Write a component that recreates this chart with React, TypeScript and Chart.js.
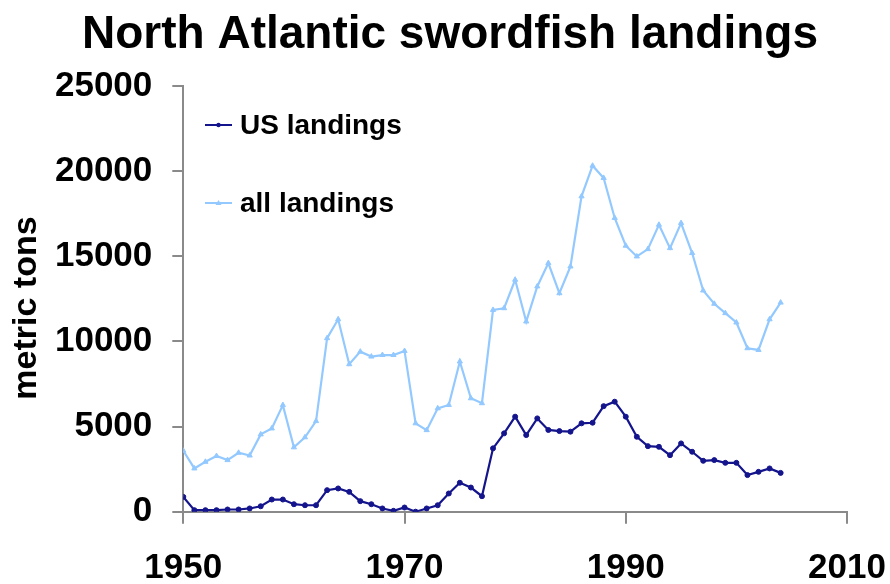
import React, { useEffect, useRef } from "react";
import { Chart, registerables } from "chart.js";

Chart.register(...registerables);

// Landings in metric tons, one value per year
const years: number[] = [
  1950, 1951, 1952, 1953, 1954, 1955, 1956, 1957, 1958, 1959,
  1960, 1961, 1962, 1963, 1964, 1965, 1966, 1967, 1968, 1969,
  1970, 1971, 1972, 1973, 1974, 1975, 1976, 1977, 1978, 1979,
  1980, 1981, 1982, 1983, 1984, 1985, 1986, 1987, 1988, 1989,
  1990, 1991, 1992, 1993, 1994, 1995, 1996, 1997, 1998, 1999,
  2000, 2001, 2002, 2003, 2004,
];

const usLandings: number[] = [
  870, 90, 90, 90, 130, 130, 190, 320, 715, 715,
  440, 380, 380, 1265, 1365, 1165, 620, 440, 190, 50,
  245, 0, 190, 380, 1070, 1700, 1420, 910, 3720, 4600,
  5580, 4500, 5480, 4800, 4735, 4700, 5190, 5225, 6200, 6460,
  5580, 4400, 3850, 3810, 3320, 4010, 3520, 2990, 3030, 2870,
  2870, 2150, 2340, 2540, 2280,
];

const allLandings: number[] = [
  3580, 2540, 2930, 3270, 3030, 3460, 3300, 4540, 4890, 6260,
  3780, 4370, 5320, 10190, 11300, 8660, 9400, 9110, 9200, 9200,
  9440, 5190, 4790, 6070, 6270, 8820, 6660, 6370, 11850, 11950,
  13620, 11170, 13230, 14600, 12830, 14400, 18520, 20320, 19600, 17250,
  15620, 14990, 15420, 16850, 15480, 16950, 15190, 12990, 12210, 11660,
  11110, 9600, 9500, 11300, 12280,
];

const seriesNames: string[] = ["US landings", "all landings"];
const seriesColors: string[] = ["#14148c", "#93c9ff"];
const seriesPoints: string[] = ["circle", "triangle"];

const titleText = "North Atlantic swordfish landings";
const yAxisTitle = "metric tons";

const xMin = 1950;
const xMax = 2010;
const xStep = 20;
const yMin = 0;
const yMax = 25000;
const yStep = 5000;

const FONT = "'Liberation Sans', Arial, Helvetica, sans-serif";
const AXIS_GREY = "#8a8a8a";

const toPoints = (vals: number[]) => vals.map((v, i) => ({ x: years[i], y: v }));

// Title, rotated axis title and the in-plot legend
const decorations = {
  id: "decorations",
  afterDraw(chart: any) {
    const ctx = chart.ctx as CanvasRenderingContext2D;
    ctx.save();
    ctx.fillStyle = "#000";

    ctx.font = `bold 46px ${FONT}`;
    ctx.textAlign = "center";
    ctx.textBaseline = "alphabetic";
    ctx.fillText(titleText, 450, 48);

    ctx.save();
    ctx.translate(27, 308);
    ctx.rotate(-Math.PI / 2);
    ctx.font = `bold 34px ${FONT}`;
    ctx.textAlign = "center";
    ctx.textBaseline = "middle";
    ctx.fillText(yAxisTitle, 0, 0);
    ctx.restore();

    const rows = [125, 203];
    chart.data.datasets.forEach((ds: any, i: number) => {
      const y = rows[i];
      ctx.strokeStyle = ds.borderColor;
      ctx.lineWidth = 2;
      ctx.beginPath();
      ctx.moveTo(205, y);
      ctx.lineTo(232, y);
      ctx.stroke();
      ctx.fillStyle = ds.borderColor;
      ctx.beginPath();
      if (ds.pointStyle === "triangle") {
        ctx.moveTo(218.5, y - 3);
        ctx.lineTo(221.5, y + 2);
        ctx.lineTo(215.5, y + 2);
        ctx.closePath();
      } else {
        ctx.arc(218.5, y, 2.2, 0, Math.PI * 2);
      }
      ctx.fill();
      ctx.fillStyle = "#000";
      ctx.font = `bold 28px ${FONT}`;
      ctx.textAlign = "left";
      ctx.textBaseline = "middle";
      ctx.fillText(ds.label, 240, y + 1);
    });
    ctx.restore();
  },
};

export default function App() {
  const canvasRef = useRef<HTMLCanvasElement | null>(null);

  useEffect(() => {
    document.body.style.margin = "0";
    const canvas = canvasRef.current;
    if (!canvas) return;

    const chart = new Chart(canvas, {
      type: "line",
      data: {
        datasets: [usLandings, allLandings].map((vals, i) => ({
          label: seriesNames[i],
          data: toPoints(vals),
          borderColor: seriesColors[i],
          backgroundColor: seriesColors[i],
          borderWidth: 2.2,
          pointStyle: seriesPoints[i] as any,
          pointRadius: i === 0 ? 2.5 : 3,
          pointBorderWidth: 1,
          tension: 0,
          fill: false,
        })),
      },
      options: {
        animation: false,
        responsive: false,
        devicePixelRatio: 1,
        layout: { padding: { top: 86, right: 43, left: 0, bottom: 0 } },
        plugins: {
          legend: { display: false },
          title: { display: false },
          tooltip: { enabled: false },
        },
        scales: {
          x: {
            type: "linear",
            min: xMin,
            max: xMax,
            afterFit: (scale: any) => {
              scale.height = 72.3;
              scale.paddingLeft = 0;
              scale.paddingRight = 0;
            },
            ticks: {
              stepSize: xStep,
              color: "#000",
              font: { family: FONT, size: 35, weight: "bold", lineHeight: 1 },
              padding: 27,
              maxRotation: 0,
              callback: (v: any) => String(v),
            },
            grid: {
              display: true,
              drawOnChartArea: false,
              drawTicks: true,
              tickLength: 12,
              color: AXIS_GREY,
              lineWidth: 2,
            },
            border: { display: true, color: AXIS_GREY, width: 2 },
          },
          y: {
            min: yMin,
            max: yMax,
            afterFit: (scale: any) => {
              scale.width = 183.3;
            },
            ticks: {
              stepSize: yStep,
              color: "#000",
              font: { family: FONT, size: 35, weight: "bold", lineHeight: 1.2 },
              padding: 20,
              callback: (v: any) => String(v),
            },
            grid: {
              display: true,
              drawOnChartArea: false,
              drawTicks: true,
              tickLength: 11,
              color: AXIS_GREY,
              lineWidth: 2,
            },
            border: { display: true, color: AXIS_GREY, width: 2 },
          },
        },
      },
      plugins: [decorations],
    });

    return () => chart.destroy();
  }, []);

  return (
    <div style={{ width: 890, height: 584, background: "#fff" }}>
      <canvas ref={canvasRef} width={890} height={584} style={{ display: "block" }} />
    </div>
  );
}
